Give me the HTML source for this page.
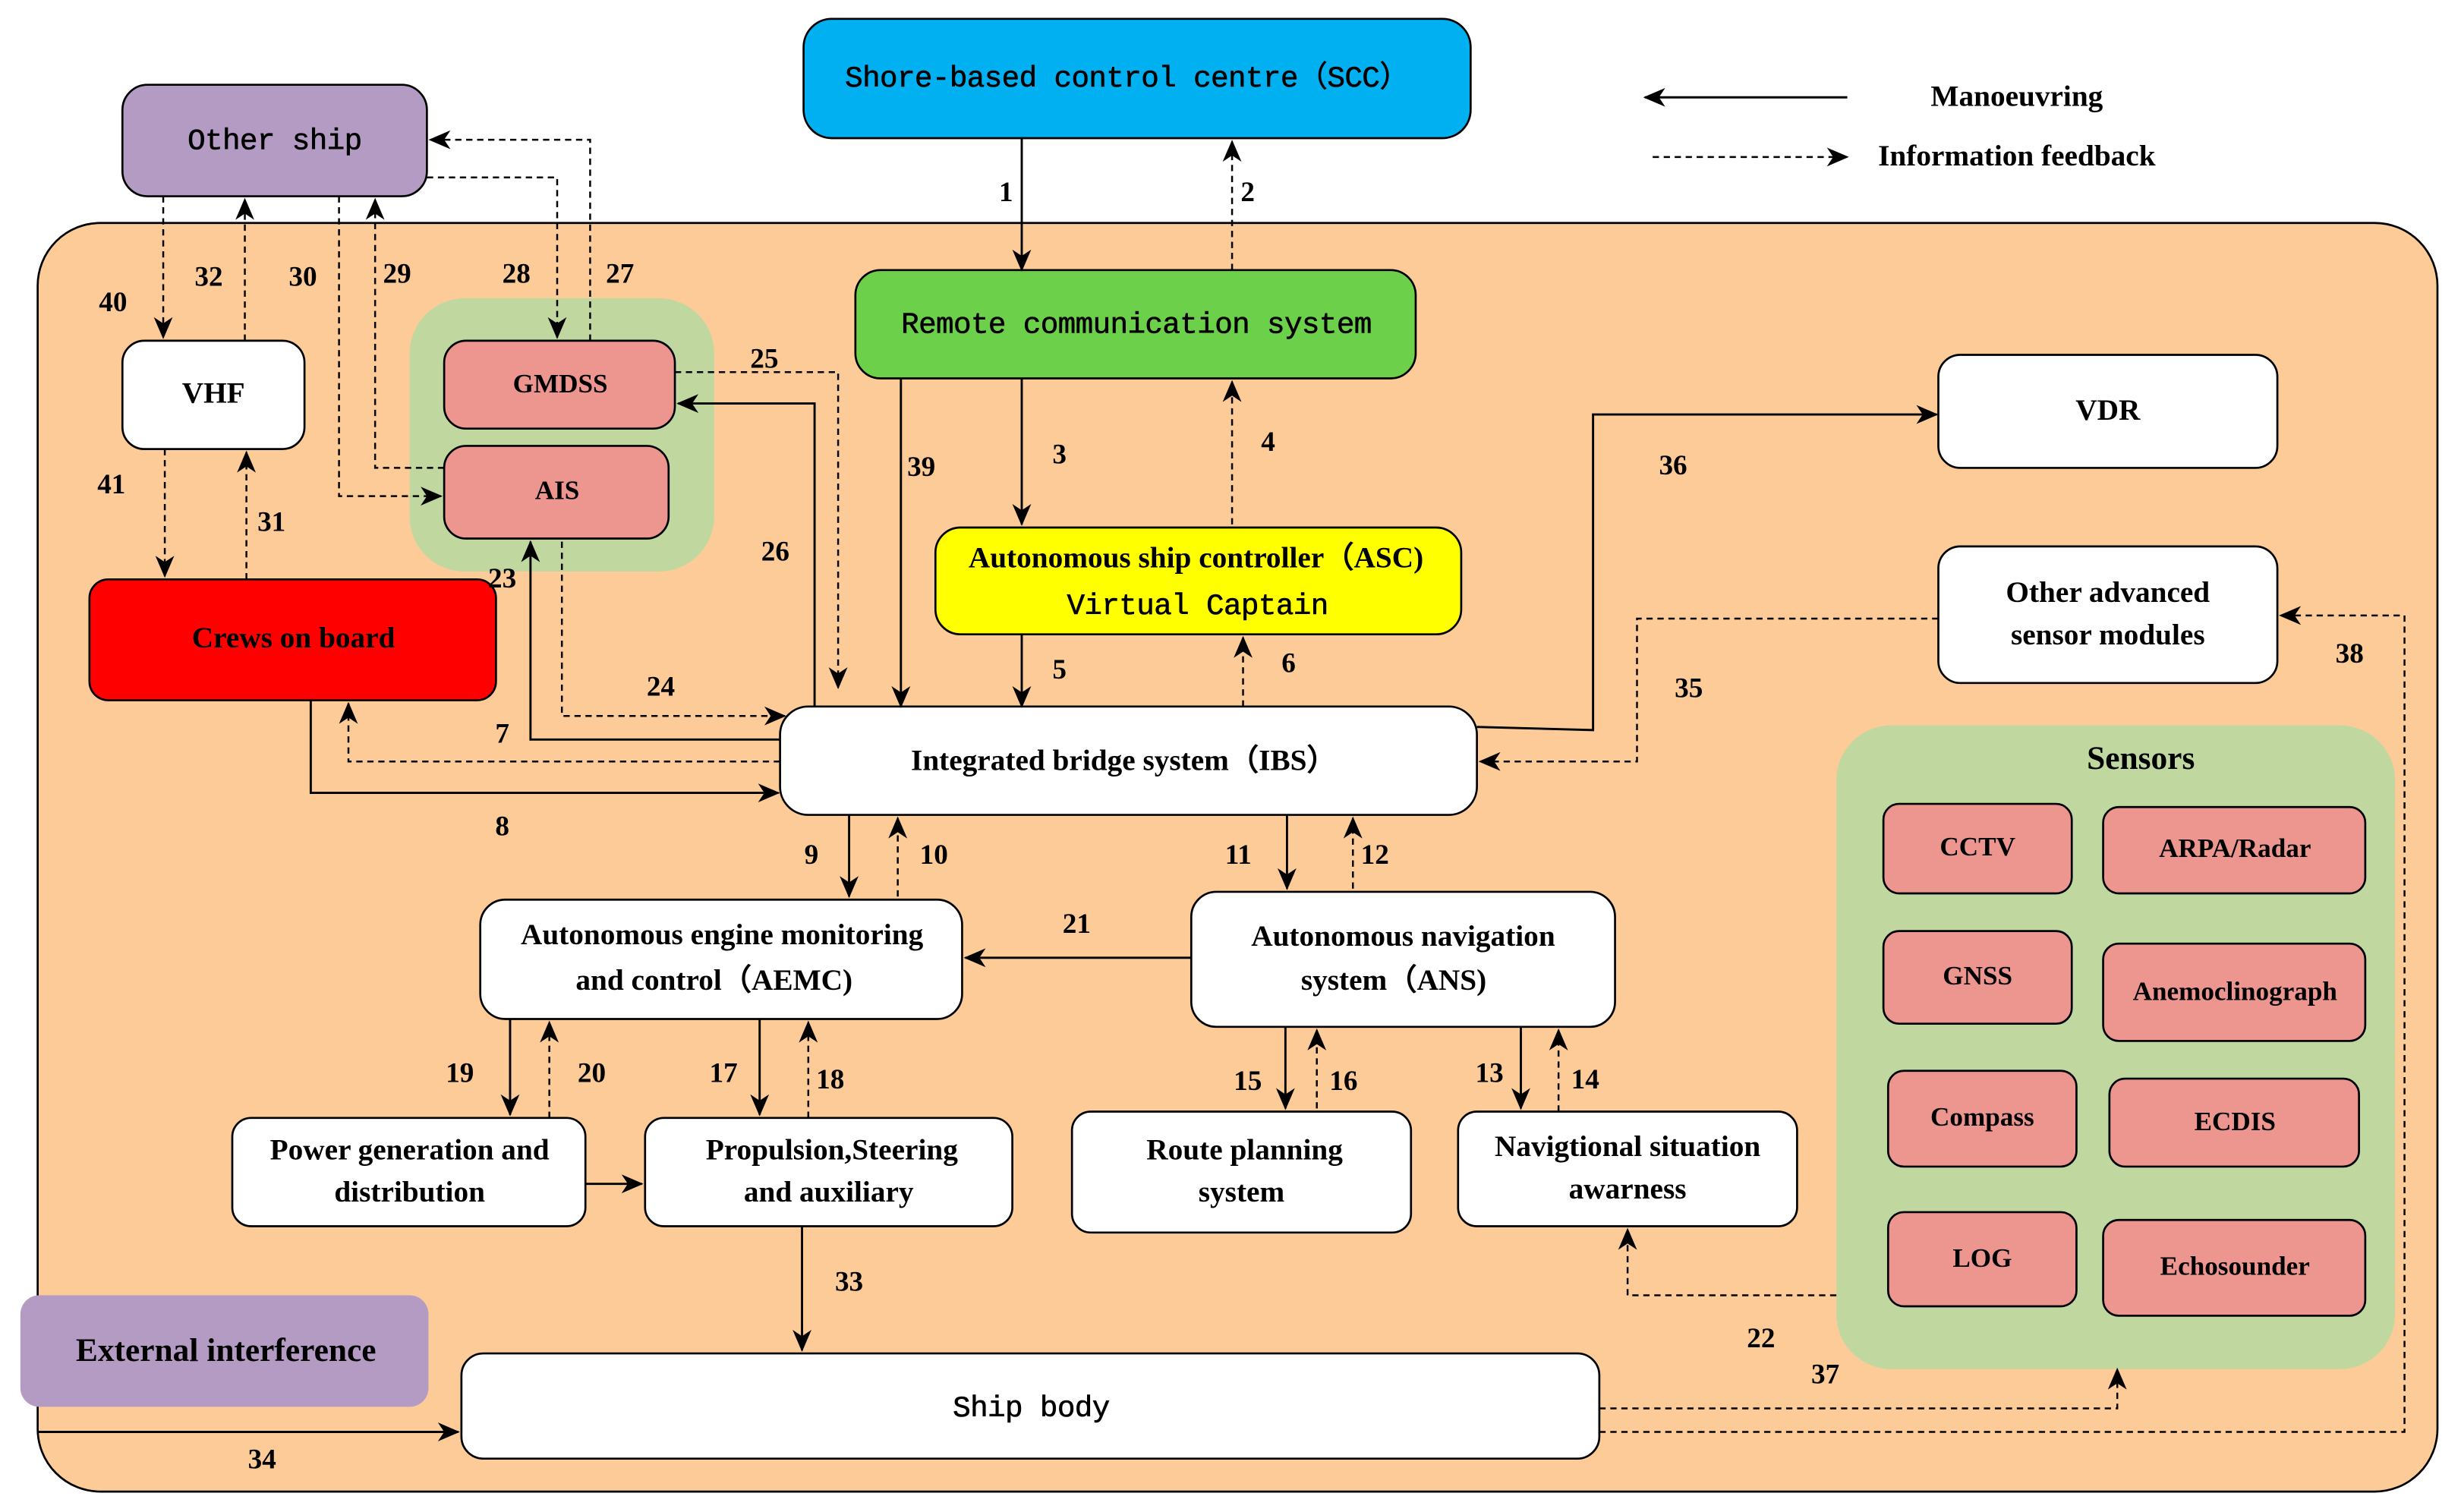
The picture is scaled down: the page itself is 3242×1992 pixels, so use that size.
<!DOCTYPE html>
<html><head><meta charset="utf-8"><style>html,body{margin:0;padding:0;background:#fff}svg{display:block}</style></head><body>
<svg width="3242" height="1992" viewBox="0 0 1568 963" preserveAspectRatio="none" xmlns="http://www.w3.org/2000/svg">
<defs>
<marker id="a" markerUnits="userSpaceOnUse" markerWidth="14" markerHeight="12" refX="13" refY="6" orient="auto"><path d="M0,0 L14,6 L0,12 L4,6 z" fill="#000"/></marker>
</defs>
<style>
.b{stroke:#000;stroke-width:1.3}
.t{font-family:"Liberation Serif",serif;font-weight:bold;font-size:19px;text-anchor:middle;dominant-baseline:middle}
.m{font-family:"Liberation Mono",monospace;font-size:19px;text-anchor:middle;dominant-baseline:middle;letter-spacing:-0.3px;stroke:#000;stroke-width:0.3}
.n{font-family:"Liberation Serif",serif;font-weight:bold;font-size:18px;text-anchor:middle;dominant-baseline:middle}
.s{fill:none;stroke:#000;stroke-width:1.4;marker-end:url(#a)}
.d{fill:none;stroke:#000;stroke-width:1.2;stroke-dasharray:4,3;marker-end:url(#a)}
</style>
<rect x="24" y="142" width="1529" height="808" rx="40" fill="#fdcb97" class="b"/>
<rect x="512" y="12" width="425" height="76" rx="18" fill="#00b0f0" class="b"/>
<text class="m" x="718" y="50">Shore-based control centre（SCC）</text>
<path class="s" d="M1177,62 L1048,62"/><text class="n" x="1285" y="63" style="font-size:19px">Manoeuvring</text>
<path class="d" d="M1053,100 L1177,100"/><text class="n" x="1285" y="101" style="font-size:19px">Information feedback</text>
<rect x="78" y="54" width="194" height="71" rx="16" fill="#b39bc4" class="b"/>
<text class="m" x="175" y="90">Other ship</text>
<rect x="261" y="190" width="194" height="174" rx="35" fill="#c0d89f"/>
<rect x="283" y="217" width="147" height="56" rx="14" fill="#ed9690" class="b"/><text class="t" x="357" y="246" style="font-size:17px">GMDSS</text>
<rect x="283" y="284" width="143" height="59" rx="14" fill="#ed9690" class="b"/><text class="t" x="355" y="314" style="font-size:17px">AIS</text>
<rect x="78" y="217" width="116" height="69" rx="14" fill="#fff" class="b"/><text class="t" x="136" y="252">VHF</text>
<rect x="57" y="369" width="259" height="77" rx="12" fill="#ff0000" class="b"/><text class="t" x="187" y="408">Crews on board</text>
<rect x="545" y="172" width="357" height="69" rx="16" fill="#6cd04a" class="b"/><text class="m" x="724" y="207">Remote communication system</text>
<rect x="596" y="336" width="335" height="68" rx="16" fill="#ffff00" class="b"/>
<text class="t" x="762" y="357">Autonomous ship controller（ASC)</text>
<text class="m" x="763" y="386">Virtual Captain</text>
<rect x="1235" y="226" width="216" height="72" rx="14" fill="#fff" class="b"/><text class="t" x="1343" y="263">VDR</text>
<rect x="1235" y="348" width="216" height="87" rx="14" fill="#fff" class="b"/>
<text class="t" x="1343" y="379">Other advanced</text><text class="t" x="1343" y="406">sensor modules</text>
<rect x="497" y="450" width="444" height="69" rx="18" fill="#fff" class="b"/><text class="t" x="716" y="486">Integrated bridge system（IBS）</text>
<rect x="1170" y="462" width="356" height="410" rx="35" fill="#c0d89f"/>
<text class="t" x="1364" y="485" style="font-size:21px">Sensors</text>
<g fill="#ed9690" class="b">
<rect x="1200" y="512" width="120" height="57" rx="10"/><rect x="1340" y="514" width="167" height="55" rx="10"/>
<rect x="1200" y="593" width="120" height="59" rx="10"/><rect x="1340" y="601" width="167" height="62" rx="10"/>
<rect x="1203" y="682" width="120" height="61" rx="10"/><rect x="1344" y="687" width="159" height="56" rx="10"/>
<rect x="1203" y="772" width="120" height="60" rx="10"/><rect x="1340" y="777" width="167" height="61" rx="10"/>
</g>
<g class="t" style="font-size:17px">
<text x="1260" y="541">CCTV</text><text x="1424" y="542">ARPA/Radar</text>
<text x="1260" y="623">GNSS</text><text x="1424" y="633">Anemoclinograph</text>
<text x="1263" y="713">Compass</text><text x="1424" y="716">ECDIS</text>
<text x="1263" y="803">LOG</text><text x="1424" y="808">Echosounder</text>
</g>
<rect x="306" y="573" width="307" height="76" rx="16" fill="#fff" class="b"/>
<text class="t" x="460" y="597">Autonomous engine monitoring</text><text class="t" x="455" y="626">and control（AEMC)</text>
<rect x="759" y="568" width="270" height="86" rx="16" fill="#fff" class="b"/>
<text class="t" x="894" y="598">Autonomous navigation</text><text class="t" x="888" y="626">system（ANS)</text>
<rect x="148" y="712" width="225" height="69" rx="12" fill="#fff" class="b"/>
<text class="t" x="261" y="734">Power generation and</text><text class="t" x="261" y="761">distribution</text>
<rect x="411" y="712" width="234" height="69" rx="12" fill="#fff" class="b"/>
<text class="t" x="530" y="734">Propulsion,Steering</text><text class="t" x="528" y="761">and auxiliary</text>
<rect x="683" y="708" width="216" height="77" rx="12" fill="#fff" class="b"/>
<text class="t" x="793" y="734">Route planning</text><text class="t" x="791" y="761">system</text>
<rect x="929" y="708" width="216" height="73" rx="12" fill="#fff" class="b"/>
<text class="t" x="1037" y="732">Navigtional situation</text><text class="t" x="1037" y="759">awarness</text>
<rect x="13" y="825" width="260" height="71" rx="12" fill="#b39bc4"/><text class="t" x="144" y="862" style="font-size:21px">External interference</text>
<rect x="294" y="862" width="725" height="67" rx="14" fill="#fff" class="b"/><text class="m" x="657" y="897">Ship body</text>
<path class="s" d="M651,88 L651,172"/><path class="d" d="M785,172 L785,90"/>
<path class="s" d="M651,241 L651,334"/><path class="d" d="M785,334 L785,243"/>
<path class="s" d="M574,241 L574,450"/>
<path class="s" d="M651,404 L651,450"/><path class="d" d="M792,450 L792,406"/>
<path class="s" d="M941,463 L1015,465 L1015,264 L1234,264"/>
<path class="d" d="M1235,394 L1043,394 L1043,485 L943,485"/>
<path class="d" d="M1019,912 L1532,912 L1532,392 L1453,392"/>
<path class="d" d="M1019,897 L1349,897 L1349,872"/>
<path class="d" d="M1170,825 L1037,825 L1037,783"/>
<path class="d" d="M376,217 L376,89 L274,89"/>
<path class="d" d="M272,113 L355,113 L355,215"/>
<path class="d" d="M283,298 L239,298 L239,127"/>
<path class="d" d="M216,125 L216,316 L281,316"/>
<path class="d" d="M156,217 L156,127"/>
<path class="d" d="M104,125 L104,215"/>
<path class="d" d="M105,286 L105,367"/>
<path class="d" d="M157,369 L157,288"/>
<path class="d" d="M430,237 L534,237 L534,438"/>
<path class="s" d="M519,450 L519,257 L432,257"/>
<path class="s" d="M497,471 L338,471 L338,345"/>
<path class="d" d="M358,345 L358,456 L500,456"/>
<path class="d" d="M497,485 L222,485 L222,448"/>
<path class="s" d="M198,446 L198,505 L496,505"/>
<path class="s" d="M541,519 L541,571"/><path class="d" d="M572,571 L572,521"/>
<path class="s" d="M820,519 L820,566"/><path class="d" d="M862,566 L862,521"/>
<path class="s" d="M759,610 L615,610"/>
<path class="s" d="M325,649 L325,710"/><path class="d" d="M350,712 L350,651"/>
<path class="s" d="M484,649 L484,710"/><path class="d" d="M515,712 L515,651"/>
<path class="s" d="M819,654 L819,706"/><path class="d" d="M839,706 L839,656"/>
<path class="s" d="M969,654 L969,706"/><path class="d" d="M993,708 L993,656"/>
<path class="s" d="M373,754 L409,754"/>
<path class="s" d="M511,781 L511,860"/>
<path class="s" d="M24,912 L292,912"/>
<g class="n">
<text x="641" y="124">1</text><text x="795" y="124">2</text><text x="675" y="291">3</text><text x="808" y="283">4</text>
<text x="587" y="299">39</text><text x="675" y="428">5</text><text x="821" y="424">6</text><text x="1066" y="298">36</text>
<text x="1076" y="440">35</text><text x="1497" y="418">38</text><text x="1163" y="877">37</text><text x="1122" y="854">22</text>
<text x="395" y="176">27</text><text x="329" y="176">28</text><text x="253" y="176">29</text><text x="193" y="178">30</text>
<text x="133" y="178">32</text><text x="72" y="194">40</text><text x="71" y="310">41</text><text x="173" y="334">31</text>
<text x="487" y="230">25</text><text x="494" y="353">26</text><text x="320" y="370">23</text><text x="421" y="439">24</text>
<text x="320" y="469">7</text><text x="320" y="528">8</text><text x="517" y="546">9</text><text x="595" y="546">10</text>
<text x="789" y="546">11</text><text x="876" y="546">12</text><text x="686" y="590">21</text>
<text x="293" y="685">19</text><text x="377" y="685">20</text><text x="461" y="685">17</text><text x="529" y="689">18</text>
<text x="795" y="690">15</text><text x="856" y="690">16</text><text x="949" y="685">13</text><text x="1010" y="689">14</text>
<text x="541" y="818">33</text><text x="167" y="931">34</text>
</g>
</svg>
</body></html>
